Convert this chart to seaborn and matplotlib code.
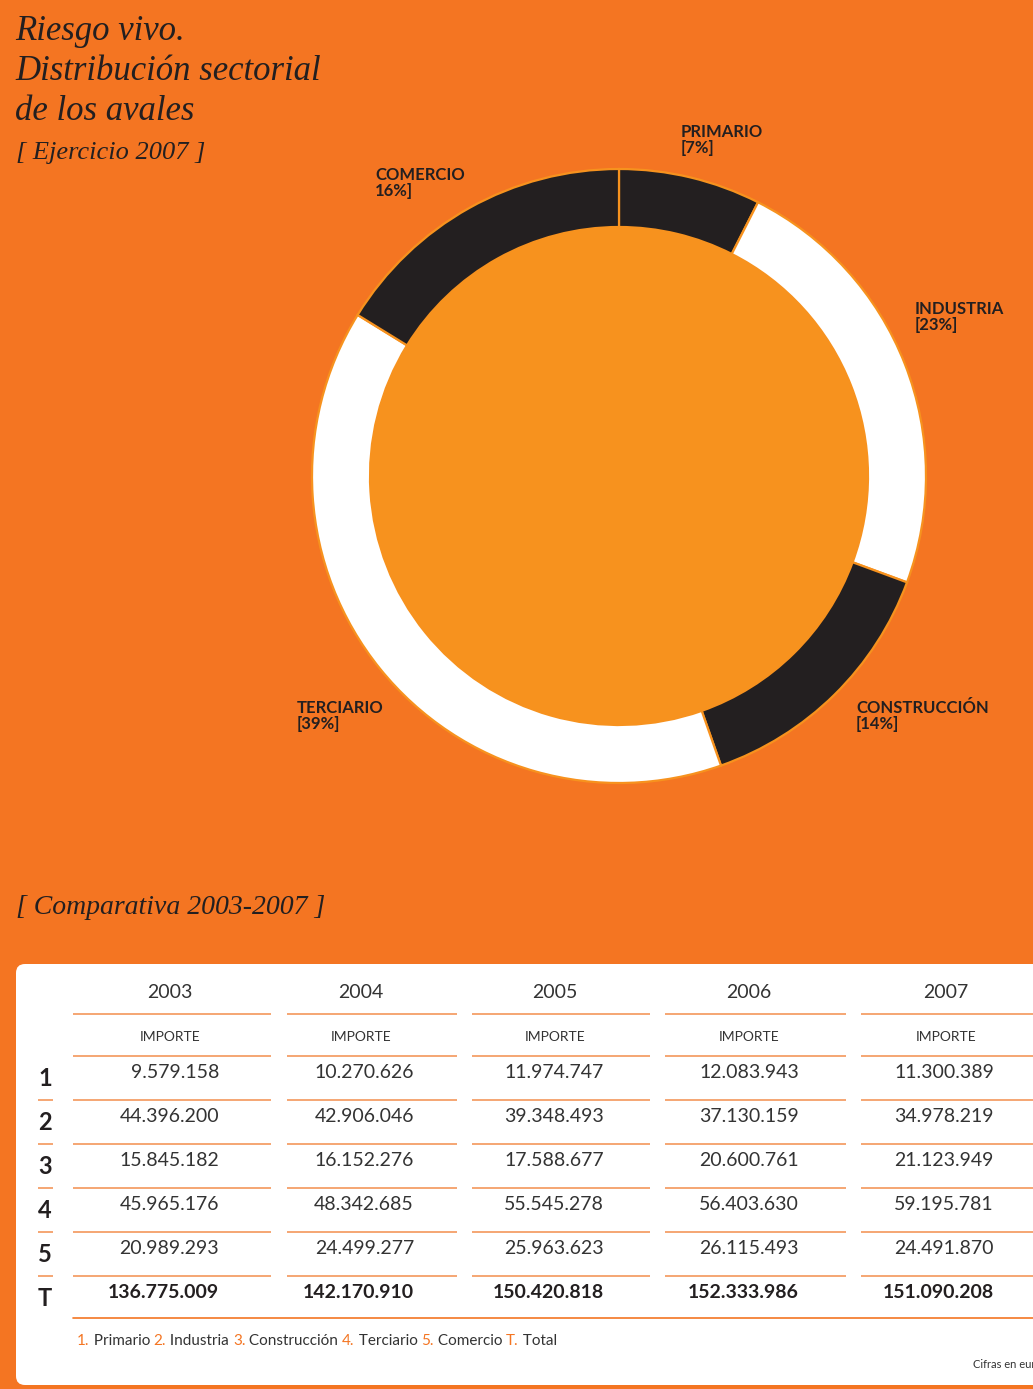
# plot.py
# riesgo vivo: distribucion sectorial de los avales + comparativa 2003-2007

import pandas as pd
import seaborn as sns
from matplotlib import pyplot as plt
from matplotlib.patches import Circle, FancyBboxPatch

sns.set_theme(style="white", rc={"axes.facecolor": "none"})
plt.rcParams['font.family'] = ['Lato', 'DejaVu Sans']

# data
years = ['2003', '2004', '2005', '2006', '2007']
row_ids = ['1', '2', '3', '4', '5']
sectors = ['Primario', 'Industria', 'Construcción', 'Terciario', 'Comercio']
pie_labels = ['PRIMARIO\n[7%]', 'INDUSTRIA\n[23%]', 'CONSTRUCCIÓN\n[14%]',
              'TERCIARIO\n[39%]', 'COMERCIO\n16%]']
importe_2003 = [9579158, 44396200, 15845182, 45965176, 20989293]
importe_2004 = [10270626, 42906046, 16152276, 48342685, 24499277]
importe_2005 = [11974747, 39348493, 17588677, 55545278, 25963623]
importe_2006 = [12083943, 37130159, 20600761, 56403630, 26115493]
importe_2007 = [11300389, 34978219, 21123949, 59195781, 24491870]

df = pd.DataFrame({'2003': importe_2003, '2004': importe_2004, '2005': importe_2005,
                   '2006': importe_2006, '2007': importe_2007}, index=row_ids)
df.loc['T'] = df.sum()

# colours
BG = '#F47522'
INNER = '#F7921E'
DARK = '#231F20'
LINE = '#F5A673'
GREY = '#333333'

W, H = 1033, 1389
fig = plt.figure(figsize=(W / 100, H / 100), dpi=100, facecolor=BG)
ax = fig.add_axes([0, 0, 1, 1])

def fmt(v):
    return f"{v:,}".replace(",", ".")

# donut
cx, cy, r_out, r_in = 619, H - 476, 307, 249
ax.pie(df.loc[row_ids, '2007'], colors=[DARK, 'white', DARK, 'white', DARK],
       startangle=90, counterclock=False, center=(cx, cy), radius=r_out,
       wedgeprops=dict(width=r_out - r_in, edgecolor=INNER, linewidth=1.6))
ax.add_patch(Circle((cx, cy), r_in, facecolor=INNER, edgecolor='none', zorder=3))
ax.set_xlim(0, W)
ax.set_ylim(0, H)
ax.set_aspect('auto')
ax.axis('off')

label_pos = [(681, 140), (915, 317), (856, 716), (297, 716), (375, 183)]
for (x, y), lab in zip(label_pos, pie_labels):
    ax.text(x, H - y, lab, fontsize=12, fontweight='bold', color=DARK,
            family=['Liberation Sans Narrow', 'Lato', 'DejaVu Sans'],
            ha='left', va='center', linespacing=1.0)

# titles
script = dict(family=['Liberation Serif', 'DejaVu Serif'], style='italic', color=DARK)
for y, t in zip([31, 71, 111], ['Riesgo vivo.', 'Distribución sectorial', 'de los avales']):
    ax.text(15, H - y, t, fontsize=25, va='center', ha='left', **script)
ax.text(16, H - 153, '[ Ejercicio 2007 ]', fontsize=19, va='center', ha='left', **script)
ax.text(16, H - 908, '[ Comparativa 2003-2007 ]', fontsize=20, va='center', ha='left', **script)

# table card
ax.add_patch(FancyBboxPatch((16, H - 1385), 1060, 421,
                            boxstyle='round,pad=0,rounding_size=9',
                            facecolor='white', edgecolor='none', zorder=1))

col_spans = [(73, 271), (287, 457), (472, 650), (665, 846), (861, 1040)]
col_center = [170, 361, 555, 749, 946]
col_right = [219, 414, 604, 799, 994]
line_y = [1014, 1056, 1100, 1144, 1188, 1232, 1276]
row_y = [1073, 1117, 1161, 1205, 1249, 1293]
label_y = [1078, 1122, 1166, 1210, 1255, 1299]

for (x0, x1), xc, xr, yr in zip(col_spans, col_center, col_right, years):
    ax.text(xc, H - 992, yr, fontsize=14, color=GREY, ha='center', va='center', zorder=4)
    ax.text(xc, H - 1037, 'IMPORTE', fontsize=10, color=GREY, ha='center', va='center', zorder=4)
    for ly in line_y:
        ax.plot([x0, x1], [H - ly, H - ly], color=LINE, lw=1.4, zorder=4, solid_capstyle='butt')
    for rid, ry in zip(df.index, row_y):
        bold = rid == 'T'
        ax.text(xr, H - ry, fmt(df.loc[rid, yr]), fontsize=14, color=DARK if bold else GREY,
                fontweight='bold' if bold else 'normal', ha='right', va='center', zorder=4)

ax.plot([73, 1040], [H - 1318, H - 1318], color=BG, lw=1.2, zorder=4)
for rid, ly in zip(df.index, label_y):
    ax.text(45, H - ly, rid, fontsize=17, fontweight='bold', color=DARK,
            ha='center', va='center', zorder=4)
for ly in line_y[2:]:
    ax.plot([38, 53], [H - ly, H - ly], color=LINE, lw=1.4, zorder=4, solid_capstyle='butt')

# legend line
pieces = []
for rid, name in zip(row_ids + ['T'], sectors + ['Total']):
    pieces.append((rid + '.', BG))
    pieces.append((' ' + name + ' ', GREY))
prev = ax.text(77, H - 1341, pieces[0][0], color=pieces[0][1], fontsize=11,
               ha='left', va='center', zorder=4)
for txt, col in pieces[1:]:
    prev = ax.annotate(txt, xy=(1, 0), xycoords=prev, color=col, fontsize=11,
                       ha='left', va='bottom', zorder=4)

# the reference cuts this note at the right edge
ax.text(973, H - 1365, 'Cifras en euros', fontsize=8, color=GREY,
        ha='left', va='center', zorder=4)

fig.savefig('out.png', dpi=100, facecolor=BG)
